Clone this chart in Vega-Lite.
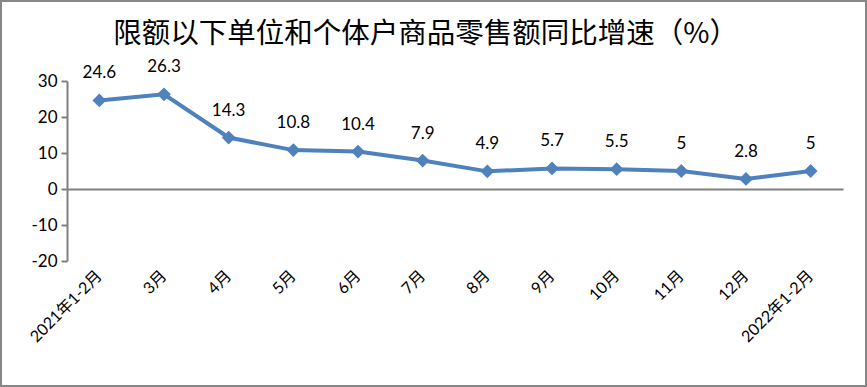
{
  "$schema": "https://vega.github.io/schema/vega-lite/v6.json",
  "width": 867,
  "height": 387,
  "autosize": "none",
  "padding": 0,
  "background": "white",
  "config": {
    "view": {"stroke": "#878787", "strokeWidth": 4},
    "font": "Lato, Noto Sans CJK SC"
  },
  "title": {
    "text": "限额以下单位和个体户商品零售额同比增速（%）",
    "font": "Noto Sans CJK SC",
    "fontSize": 28.5,
    "fontWeight": "normal",
    "color": "#000000",
    "anchor": "middle",
    "frame": "group",
    "offset": -48,
    "dx": -8
  },
  "data": {
    "values": [
      {"period": "2021年1-2月", "value": 24.6},
      {"period": "3月", "value": 26.3},
      {"period": "4月", "value": 14.3},
      {"period": "5月", "value": 10.8},
      {"period": "6月", "value": 10.4},
      {"period": "7月", "value": 7.9},
      {"period": "8月", "value": 4.9},
      {"period": "9月", "value": 5.7},
      {"period": "10月", "value": 5.5},
      {"period": "11月", "value": 5},
      {"period": "12月", "value": 2.8},
      {"period": "2022年1-2月", "value": 5}
    ]
  },
  "encoding": {
    "x": {
      "field": "period", "type": "nominal", "sort": null,
      "scale": {"type": "band", "paddingInner": 0, "paddingOuter": 0, "range": [67, 843]},
      "axis": {
        "title": null, "orient": "bottom", "offset": -198,
        "domain": true, "ticks": false,
        "domainColor": "#808080", "domainWidth": 2,
        "labelAngle": -45, "labelAlign": "right", "labelBaseline": "middle",
        "labelFont": "Lato, Noto Sans CJK SC", "labelFontSize": 16, "labelColor": "#000000",
        "labelPadding": 84
      }
    },
    "y": {
      "field": "value", "type": "quantitative",
      "scale": {"domain": [-20, 30], "nice": false, "zero": false, "range": [261, 81]},
      "axis": {
        "title": null, "orient": "left", "offset": -67, "grid": false,
        "values": [-20, -10, 0, 10, 20, 30],
        "labelExpr": "toString(datum.value)",
        "domainColor": "#808080", "domainWidth": 2,
        "tickColor": "#808080", "tickWidth": 2, "tickSize": 6,
        "labelFont": "Lato", "labelFontSize": 17, "labelColor": "#000000", "labelPadding": 4
      }
    }
  },
  "layer": [
    {"mark": {"type": "line", "color": "#4F81BD", "strokeWidth": 4}},
    {"mark": {"type": "point", "shape": "diamond", "filled": true, "color": "#4F81BD", "size": 190, "opacity": 1}},
    {
      "mark": {"type": "text", "font": "Lato", "fontSize": 17, "color": "#000000", "baseline": "alphabetic", "dy": -22},
      "encoding": {
        "text": {"field": "value", "type": "quantitative"}
      }
    }
  ]
}
